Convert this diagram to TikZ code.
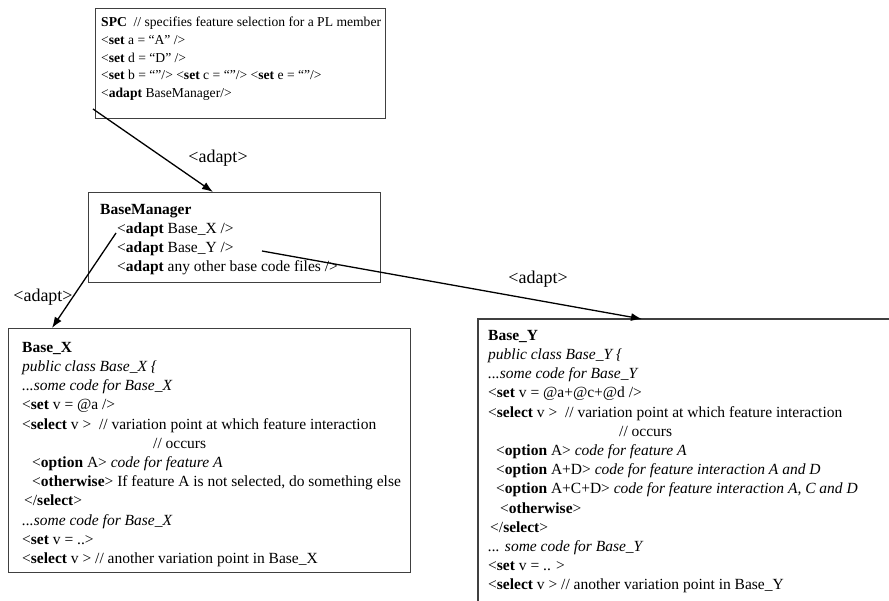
\documentclass[tikz,border=0pt]{standalone}
\usepackage{fontspec}
\setmainfont{Liberation Serif}
\usetikzlibrary{arrows.meta}
\begin{document}
\begin{tikzpicture}[x=1pt,y=-1pt,
  box/.style={draw=black!75, line width=1.2pt, inner sep=0pt, anchor=north west},
  txt/.style={anchor=north west, inner sep=0pt, align=left},
  big/.style={font=\fontsize{15.5}{19.2}\selectfont},
  small/.style={font=\fontsize{13.6}{17.7}\selectfont},
  lbl/.style={font=\fontsize{18}{20}\selectfont, inner sep=0pt},
  conn/.style={line width=1.3pt, -{Latex[length=11pt,width=8pt]}}]
\useasboundingbox[fill=white] (0,0) rectangle (889,601);

% SPC box
\node[box, minimum width=290pt, minimum height=110pt] (spc) at (95,8) {};
\node[txt, small] (spct) at (101,17) {%
\textbf{SPC}\ \ // specifies feature selection for a PL member\\
<\textbf{set} a = “A” />\\
<\textbf{set} d = “D” />\\
<\textbf{set} b = “”/> <\textbf{set} c = “”/> <\textbf{set} e = “”/>\\
<\textbf{adapt} BaseManager/>};

% BaseManager box
\node[box, minimum width=292pt, minimum height=90pt] (bm) at (88,192) {};
\node[txt, big] (bmt) at (100,204) {%
\textbf{BaseManager}\\
\hspace*{17pt}<\textbf{adapt} Base\_X />\\
\hspace*{17pt}<\textbf{adapt} Base\_Y />\\
\hspace*{17pt}<\textbf{adapt} any other base code files />};

% Base_X box
\node[box, minimum width=402pt, minimum height=244pt] (bx) at (8,328) {};
\node[txt, big] (bxt) at (22,342) {%
\textbf{Base\_X}\\
\textit{public class Base\_X \{}\\
\textit{...some code for Base\_X}\\
<\textbf{set} v = @a />\\
<\textbf{select} v >\ \ // variation point at which feature interaction\\
\hspace*{131pt}// occurs\\
\hspace*{10pt}<\textbf{option} A> \textit{code for feature A}\\
\hspace*{10pt}<\textbf{otherwise}> If feature A is not selected, do something else\\
\hspace*{2pt}</\textbf{select}>\\
\textit{...some code for Base\_X}\\
<\textbf{set} v = ..>\\
<\textbf{select} v > // another variation point in Base\_X};

% Base_Y box (open to the right and bottom)
\node[anchor=north west, inner sep=0pt, minimum width=420pt, minimum height=290pt] (by) at (478,319) {};
\draw[draw=black!75, line width=1.2pt] (by.south west) -- (by.north west) -- (by.north east);
\node[txt, big] (byt) at (488,330) {%
\textbf{Base\_Y}\\
\textit{public class Base\_Y \{}\\
\textit{...some code for Base\_Y}\\
<\textbf{set} v = @a+@c+@d />\\
<\textbf{select} v >\ \ // variation point at which feature interaction\\
\hspace*{131pt}// occurs\\
\hspace*{8pt}<\textbf{option} A> \textit{code for feature A}\\
\hspace*{8pt}<\textbf{option} A+D> \textit{code for feature interaction A and D}\\
\hspace*{8pt}<\textbf{option} A+C+D> \textit{code for feature interaction A, C and D}\\
\hspace*{12pt}<\textbf{otherwise}>\\
\hspace*{2pt}</\textbf{select}>\\
\textit{... some code for Base\_Y}\\
<\textbf{set} v = .. >\\
<\textbf{select} v > // another variation point in Base\_Y};

% connectors
\coordinate (s1) at (93,109);
\coordinate (e1) at (213,192);
\coordinate (s2) at (116,233);
\coordinate (e2) at (52,328);
\coordinate (s3) at (262,251);
\coordinate (e3) at (642,319);
\draw[conn] (s1) -- (e1);
\draw[conn] (s2) -- (e2);
\draw[conn] (s3) -- (e3);

\node[lbl] (l1) at (218,158) {<adapt>};
\node[lbl] (l2) at (43,297) {<adapt>};
\node[lbl] (l3) at (538,279) {<adapt>};
\end{tikzpicture}
\end{document}
